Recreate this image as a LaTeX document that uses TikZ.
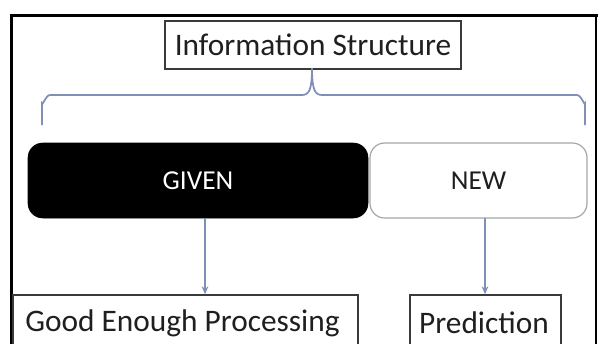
\documentclass[tikz,border=0pt]{standalone}
\usepackage{fontspec}
\setmainfont{Carlito}
\usetikzlibrary{arrows.meta}
\definecolor{bracecol}{HTML}{7F8FB5}
\definecolor{boxgray}{HTML}{3A3A3A}
\begin{document}
\begin{tikzpicture}[x=0.75pt,y=-0.75pt,
  sqbox/.style={draw=boxgray, line width=1.1pt, inner sep=0pt},
  bigtext/.style={font=\fontsize{23.5}{26}\selectfont, text=black!88},
  midtext/.style={font=\fontsize{20.5}{24}\selectfont},
  arr/.style={draw=bracecol, line width=1.1pt, -{Stealth[length=6pt,width=5pt]}}]
\useasboundingbox (0,0) rectangle (599,343);
\fill[white] (0,0) rectangle (599,343);
% frame
\draw[line width=2.8pt, line cap=rect] (11.5,345) -- (11.5,15.5) -- (596,15.5);
\draw[line width=1.2pt] (596,15.5) -- (596,345);
% title
\node[sqbox, minimum width=222pt, minimum height=36pt, bigtext] (info) at (313,45) {Information Structure};
% brace
\draw[bracecol, line width=1.3pt]
  (42,125) -- (42,103) to[out=-90,in=180] (50,95) -- (302,95)
  .. controls (309,95) and (312,90) .. (312,68)
  .. controls (312,90) and (315,95) .. (322,95) -- (577,95)
  to[out=0,in=-90] (585,103) -- (585,125);
% given / new
\node[fill=black, draw=black, rounded corners=11pt, minimum width=255pt, minimum height=56.25pt, midtext, text=white] (given) at (198,180.5) {GIVEN};
\node[draw=black!35, line width=0.9pt, fill=white, rounded corners=11pt, minimum width=162.75pt, minimum height=56.25pt, midtext, text=black!88] (new) at (478.5,180.5) {NEW};
% lower boxes
\node[sqbox, minimum width=258.75pt, minimum height=37.5pt] (good) at (185.5,320) {};
\node[bigtext, anchor=west, inner sep=0pt] (goodtext) at (25,323) {Good Enough Processing};
\node[sqbox, minimum width=113.25pt, minimum height=37.5pt] (pred) at (485.5,320) {};
\node[bigtext, inner sep=0pt] (predtext) at (484,323) {Prediction};
% arrows
\coordinate (a1) at (205,218);
\coordinate (a2) at (485,218);
\draw[arr] (a1) -- (a1 |- good.north);
\draw[arr] (a2) -- (a2 |- pred.north);
\end{tikzpicture}
\end{document}
